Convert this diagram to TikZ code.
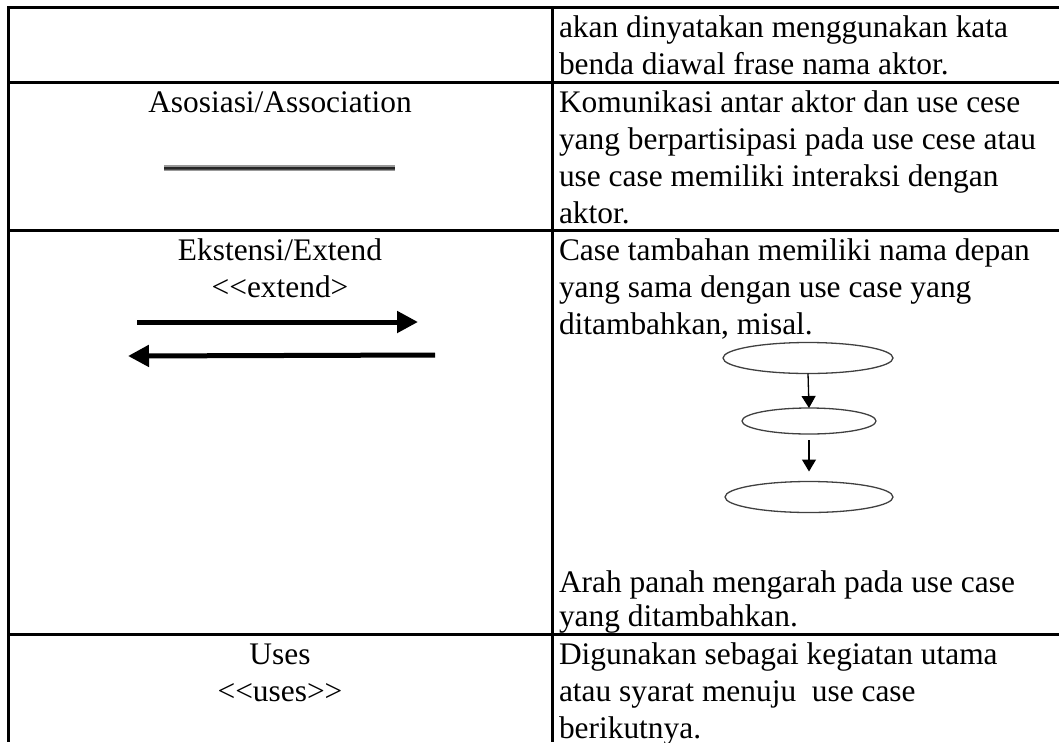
\documentclass[tikz,border=0pt]{standalone}
\usepackage{fontspec}
\setmainfont{Liberation Serif}
\usetikzlibrary{arrows.meta,shapes.geometric}
\begin{document}
\begin{tikzpicture}[x=1pt,y=-1pt,
  every node/.style={inner sep=0pt,outer sep=0pt,font=\fontsize{31.4}{37}\selectfont},
  rtext/.style={anchor=base west},
  ctext/.style={anchor=base},
  grid/.style={line width=3pt,black},
  uc/.style={draw=black!75,line width=1.3pt,ellipse},
  bigarrow/.style={line width=5pt,-{Triangle[length=21pt,width=21pt]}},
  smallarrow/.style={line width=1.3pt,-{Triangle[length=12pt,width=14pt]}}]
\useasboundingbox (0,0) rectangle (1059,742);
% grid
\draw[grid] (1059,7) -- (8,7) -- (8,742);
\draw[grid] (552,7) -- (552,742);
\draw[grid] (8,82) -- (1059,82);
\draw[grid] (8,230) -- (1059,230);
\draw[grid] (8,634) -- (1059,634);
% row 1
\node[rtext] (r1a) at (559,37) {akan dinyatakan menggunakan kata};
\node[rtext] (r1b) at (559,74) {benda diawal frase nama aktor.};
% row 2
\node[ctext] (l2) at (280,112) {Asosiasi/Association};
\coordinate (asA) at (164,168);
\coordinate (asB) at (395,168);
\draw[line width=5.5pt,black!40] (asA) -- (asB);
\draw[line width=3pt,black!70] (asA) -- (asB);
\draw[line width=1.2pt,black!85] (asA) -- (asB);
\node[rtext] (r2a) at (559,112) {Komunikasi antar aktor dan use cese};
\node[rtext] (r2b) at (559,149) {yang berpartisipasi pada use cese atau};
\node[rtext] (r2c) at (559,186) {use case memiliki interaksi dengan};
\node[rtext] (r2d) at (559,223) {aktor.};
% row 3
\node[ctext] (l3a) at (280,260) {Ekstensi/Extend};
\node[ctext] (l3b) at (280,297) {<{}<extend>};
\coordinate (exA) at (137,322);
\coordinate (exB) at (418,322);
\coordinate (exC) at (435,355);
\coordinate (exD) at (128,356);
\draw[bigarrow] (exA) -- (exB);
\draw[bigarrow] (exC) -- (exD);
\node[rtext] (r3a) at (559,260) {Case tambahan memiliki nama depan};
\node[rtext] (r3b) at (559,297) {yang sama dengan use case yang};
\node[rtext] (r3c) at (559,334) {ditambahkan, misal.};
\node[uc,minimum width=170pt,minimum height=31pt] (e1) at (808,358) {};
\node[uc,minimum width=134pt,minimum height=26pt] (e2) at (809,421) {};
\node[uc,minimum width=168pt,minimum height=31pt] (e3) at (809,497) {};
\draw[smallarrow] (e1.south) -- (e2.north);
\draw[smallarrow,shorten <=6pt,shorten >=10pt] (e2.south) -- (e3.north);
\node[rtext] (r3d) at (559,592) {Arah panah mengarah pada use case};
\node[rtext] (r3e) at (559,626) {yang ditambahkan.};
% row 4
\node[ctext] (l4a) at (280,664) {Uses};
\node[ctext] (l4b) at (280,701) {<{}<uses>{}>};
\node[rtext] (r4a) at (559,664) {Digunakan sebagai kegiatan utama};
\node[rtext] (r4b) at (559,701) {atau syarat menuju\ \ use case};
\node[rtext] (r4c) at (559,738) {berikutnya.};
\end{tikzpicture}
\end{document}
